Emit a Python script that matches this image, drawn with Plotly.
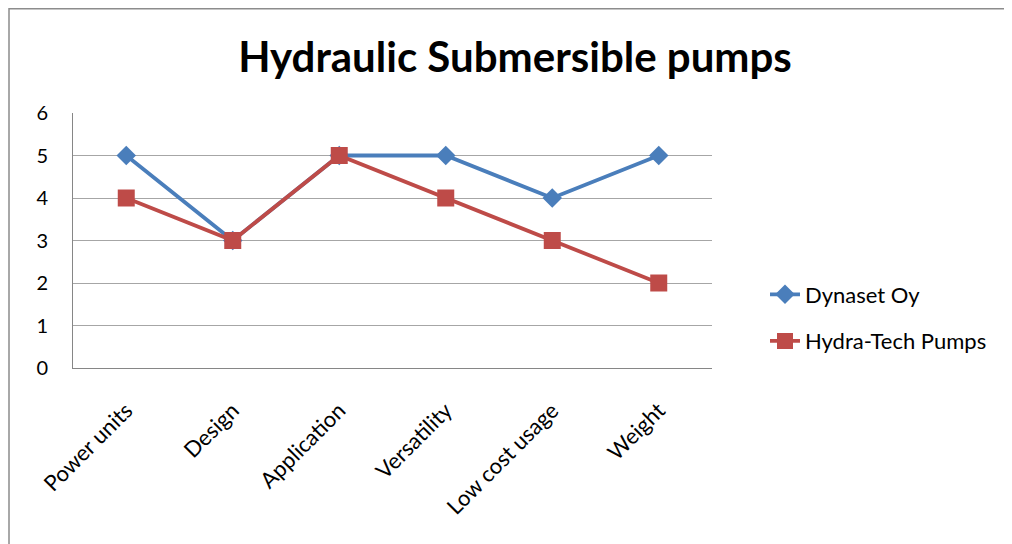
import plotly.graph_objects as go

categories = ["Power units", "Design", "Application", "Versatility", "Low cost usage", "Weight"]
dynaset = [5, 3, 5, 5, 4, 5]
hydra = [4, 3, 5, 4, 3, 2]
y_ticks = [0, 1, 2, 3, 4, 5, 6]

FONT = "Lato"
# page body has an 8px margin, so the figure starts at screen (8, 8)
OFF = 8
W, H = 1012 - OFF, 544 - OFF
L, R, T, B = 73 - OFF, 300, 113 - OFF, 176
pw, ph = W - L - R, H - T - B

def px2x(sx):
    return (sx - OFF - L) / pw

def py2y(sy):
    return (H - B - (sy - OFF)) / ph

fig = go.Figure()
fig.add_trace(go.Scatter(
    x=categories, y=dynaset, name="Dynaset Oy", mode="lines+markers",
    line=dict(color="#4A7EBB", width=3.8),
    marker=dict(symbol="diamond", size=15, color="#4A7EBB"),
    legendgroup="a",
))
fig.add_trace(go.Scatter(
    x=categories, y=hydra, name="Hydra-Tech Pumps", mode="lines+markers",
    line=dict(color="#BE4B48", width=3.8),
    marker=dict(symbol="square", size=17, color="#BE4B48"),
    legendgroup="b",
))

fig.update_layout(
    width=W, height=H,
    margin=dict(l=L, r=R, t=T, b=B),
    paper_bgcolor="white", plot_bgcolor="white",
    font=dict(family=FONT, size=20, color="#000000"),
    title=dict(text="<b>Hydraulic Submersible pumps</b>", x=(515 - OFF) / W, xanchor="center",
               xref="container", y=1 - (57 - OFF) / H, yanchor="middle", yref="container",
               font=dict(family=FONT, size=42, color="#000000")),
    showlegend=True,
    legend=dict(x=px2x(765), y=py2y(318), xanchor="left", yanchor="middle",
                font=dict(family=FONT, size=22), traceorder="grouped",
                tracegroupgap=15, bgcolor="rgba(0,0,0,0)", itemwidth=30),
    xaxis=dict(range=[-0.5, 5.5], showgrid=False, showline=True, linecolor="#868686",
               linewidth=1, ticks="", tickangle=-45, zeroline=False,
               ticklabelstandoff=20,
               tickfont=dict(family=FONT, size=22)),
    yaxis=dict(range=[0, 6], tickvals=y_ticks, showgrid=True, gridcolor="#A6A6A6",
               gridwidth=1, showline=True, linecolor="#868686", linewidth=1,
               ticks="", zeroline=False, ticklabelstandoff=20,
               tickfont=dict(family=FONT, size=20)),
)

fig.add_shape(type="rect", xref="paper", yref="paper",
              x0=px2x(9), x1=px2x(1040), y0=py2y(580), y1=py2y(8.8),
              line=dict(color="#8C8C8C", width=1.5), fillcolor="rgba(0,0,0,0)",
              layer="below")

fig.write_html("out.html")
